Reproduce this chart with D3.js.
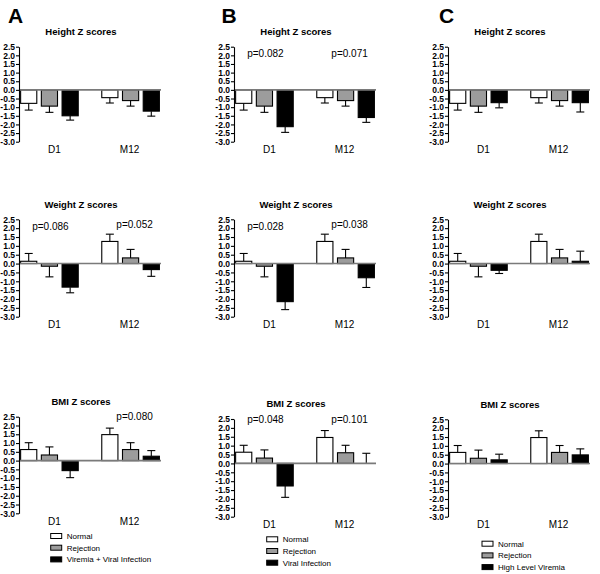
<!DOCTYPE html>
<html><head><meta charset="utf-8">
<script src="https://cdn.jsdelivr.net/npm/d3@7"></script>
<style>body{margin:0;background:#fff}svg{display:block}</style>
</head><body><svg id="c" width="600" height="574"></svg>
<script>
const categories = ["D1", "M12"];
const yTicks = [-3.0,-2.5,-2.0,-1.5,-1.0,-0.5,0.0,0.5,1.0,1.5,2.0,2.5];
const legendA = ["Normal", "Rejection", "Viremia + Viral Infection"];
const legendB = ["Normal", "Rejection", "Viral Infection"];
const legendC = ["Normal", "Rejection", "High Level Viremia"];
const rowTitles = ["Height Z scores", "Weight Z scores", "BMI Z scores"];
const panelLetters = ["A", "B", "C"];

// means: one array per series, [D1, M12]; err: end of error bar
const heightA_mean = [[-0.78,-0.45],[-0.94,-0.62],[-1.50,-1.23]];
const heightA_err  = [[-1.17,-0.76],[-1.30,-0.94],[-1.75,-1.52]];
const heightB_mean = [[-0.78,-0.45],[-0.94,-0.62],[-2.13,-1.60]];
const heightB_err  = [[-1.17,-0.76],[-1.30,-0.94],[-2.46,-1.88]];
const heightC_mean = [[-0.78,-0.45],[-0.94,-0.62],[-0.74,-0.74]];
const heightC_err  = [[-1.17,-0.76],[-1.30,-0.94],[-1.04,-1.28]];

const weightA_mean = [[0.13,1.25],[-0.15,0.32],[-1.33,-0.34]];
const weightA_err  = [[0.57,1.66],[-0.75,0.80],[-1.65,-0.72]];
const weightB_mean = [[0.13,1.25],[-0.15,0.32],[-2.15,-0.80]];
const weightB_err  = [[0.57,1.66],[-0.75,0.80],[-2.60,-1.35]];
const weightC_mean = [[0.13,1.25],[-0.15,0.32],[-0.38,0.13]];
const weightC_err  = [[0.57,1.66],[-0.75,0.80],[-0.56,0.70]];

const bmiA_mean = [[0.63,1.48],[0.32,0.63],[-0.57,0.25]];
const bmiA_err  = [[1.02,1.85],[0.78,1.02],[-0.97,0.57]];
const bmiB_mean = [[0.63,1.46],[0.30,0.60],[-1.27,0.00]];
const bmiB_err  = [[1.02,1.85],[0.76,1.02],[-1.91,0.57]];
const bmiC_mean = [[0.63,1.47],[0.30,0.63],[0.21,0.49]];
const bmiC_err  = [[1.02,1.85],[0.76,1.02],[0.53,0.83]];

// p-value annotations per panel: [D1 label, M12 label]
const pHeightB = ["p=0.082", "p=0.071"];
const pWeightA = ["p=0.086", "p=0.052"];
const pWeightB = ["p=0.028", "p=0.038"];
const pBmiA = ["", "p=0.080"];
const pBmiB = ["p=0.048", "p=0.101"];

// ---------- layout ----------
const FONT = "'Liberation Sans', Arial, Helvetica, sans-serif";
const fills = ["#ffffff", "#9c9c9c", "#000000"];
const colX = [19, 234, 448];
const panelW = 142;
const rowY = [
  [[46.7,141.7],[46.7,141.7],[46.7,141.7]],
  [[219.3,316.7],[219.3,316.7],[219.3,316.7]],
  [[416.7,513.3],[419,516.7],[419.3,516.7]]
];
const panels = [
  {r:0,c:0,mean:heightA_mean,err:heightA_err,p:null},
  {r:0,c:1,mean:heightB_mean,err:heightB_err,p:pHeightB, pdy:6.5},
  {r:0,c:2,mean:heightC_mean,err:heightC_err,p:null},
  {r:1,c:0,mean:weightA_mean,err:weightA_err,p:pWeightA, pdy:[7.4,4.7]},
  {r:1,c:1,mean:weightB_mean,err:weightB_err,p:pWeightB, pdy:[6.7,5]},
  {r:1,c:2,mean:weightC_mean,err:weightC_err,p:null},
  {r:2,c:0,mean:bmiA_mean,err:bmiA_err,p:pBmiA, pdy:0},
  {r:2,c:1,mean:bmiB_mean,err:bmiB_err,p:pBmiB, pdy:0},
  {r:2,c:2,mean:bmiC_mean,err:bmiC_err,p:null}
];
const legends = [legendA, legendB, legendC];
const legendOff = [[31.7,22.7],[32.7,22.6],[34,27]];

const svg = d3.select("#c");

panelLetters.forEach((L,i)=>{
  svg.append("text").attr("x",[8,221.5,439][i]).attr("y",23)
    .attr("font-family",FONT).attr("font-weight","bold").attr("font-size",21).text(L);
});

panels.forEach(P=>{
  const x0 = colX[P.c];
  const [top,bot] = rowY[P.r][P.c];
  const g = svg.append("g").attr("transform",`translate(${x0},0)`);
  const y = d3.scaleLinear().domain([-3,2.5]).range([bot,top]);
  const gx = d3.scaleBand().domain(categories).range([0,panelW]).paddingInner(0.29).paddingOuter(0.02);
  const sx = d3.scaleBand().domain([0,1,2]).range([0,gx.bandwidth()]).paddingInner(0.22).paddingOuter(0);

  g.append("text").attr("x",62).attr("y",top-15).attr("dy","0.35em")
    .attr("text-anchor","middle").attr("font-family",FONT).attr("font-weight","bold")
    .attr("font-size",9.5).text(rowTitles[P.r]);

  P.mean.forEach((ser,si)=>{
    ser.forEach((v,ci)=>{
      const bx = gx(categories[ci]) + sx(si);
      const bw = sx.bandwidth();
      const e = P.err[si][ci];
      const cx = bx + bw/2;
      g.append("line").attr("x1",cx).attr("x2",cx).attr("y1",y(v)).attr("y2",y(e))
        .attr("stroke","#000").attr("stroke-width",1.1);
      g.append("line").attr("x1",cx-4).attr("x2",cx+4).attr("y1",y(e)).attr("y2",y(e))
        .attr("stroke","#000").attr("stroke-width",1.1);
      if (Math.abs(v) > 0.001) {
        g.append("rect").attr("x",bx).attr("width",bw)
          .attr("y",Math.min(y(v),y(0))).attr("height",Math.abs(y(v)-y(0)))
          .attr("fill",fills[si]).attr("stroke","#000").attr("stroke-width",1.1);
      }
    });
  });

  g.append("line").attr("x1",0).attr("x2",panelW).attr("y1",y(0)).attr("y2",y(0))
    .attr("stroke","#7a7a7a").attr("stroke-width",1.6);

  const ax = g.append("g").call(d3.axisLeft(y).tickValues(yTicks).tickSize(3).tickSizeOuter(0)
      .tickPadding(1).tickFormat(d => (Math.abs(d)<1e-9 ? 0 : d).toFixed(1)));
  ax.selectAll("text").attr("font-family",FONT).attr("font-weight","bold").attr("font-size",8.5).attr("fill","#000");
  ax.selectAll("line,path").attr("stroke","#000").attr("stroke-width",1.1);

  const labOff = [5,-1];
  categories.forEach((c,ci)=>{
    g.append("text").attr("x",gx(c)+gx.bandwidth()/2+labOff[ci]).attr("y",bot+8).attr("dy","0.35em")
      .attr("text-anchor","middle").attr("font-family",FONT).attr("font-size",10).text(c);
  });

  if (P.p) {
    P.p.forEach((t,ci)=>{
      if (!t) return;
      const dy = Array.isArray(P.pdy) ? P.pdy[ci] : P.pdy;
      g.append("text").attr("x",gx(categories[ci])+gx.bandwidth()/2+[1,4][ci]).attr("y",top+dy).attr("dy","0.35em")
        .attr("text-anchor","middle").attr("font-family",FONT).attr("font-size",10).text(t);
    });
  }

  if (P.r===2) {
    const [lx,ly] = legendOff[P.c];
    legends[P.c].forEach((t,i)=>{
      const yy = bot + ly + i*11.7;
      g.append("rect").attr("x",lx).attr("y",yy-2.5).attr("width",11).attr("height",5)
        .attr("fill",fills[i]).attr("stroke","#000").attr("stroke-width",1);
      g.append("text").attr("x",lx+16).attr("y",yy).attr("dy","0.35em")
        .attr("font-family",FONT).attr("font-size",8).text(t);
    });
  }
});
</script></body></html>
